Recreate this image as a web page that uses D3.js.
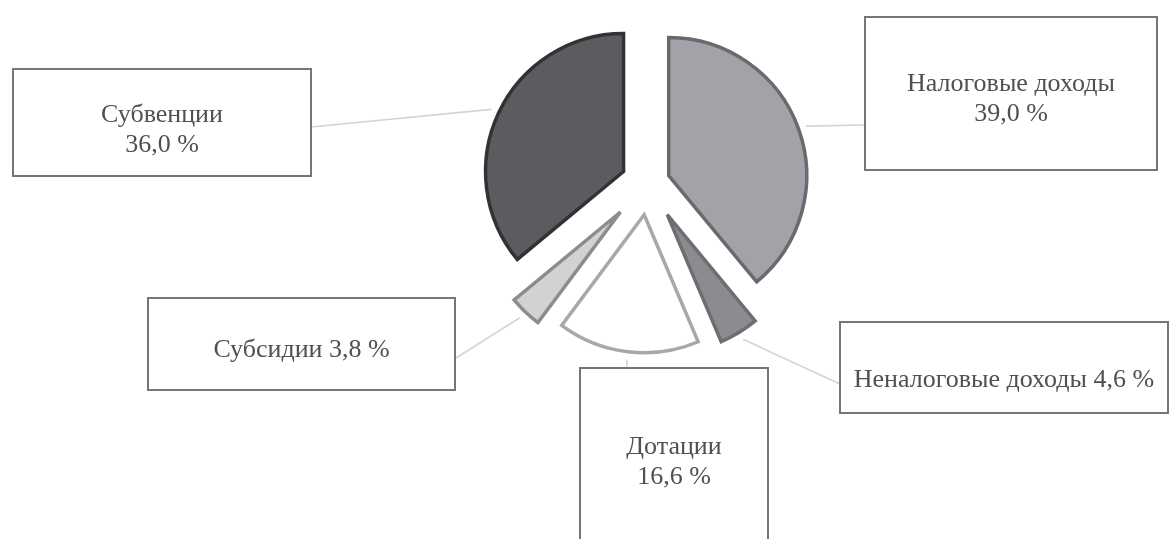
<!DOCTYPE html>
<html>
<head>
<meta charset="utf-8">
<script src="https://cdn.jsdelivr.net/npm/d3@7/dist/d3.min.js"></script>
<style>
  html, body { margin: 0; padding: 0; background: #fff; }
  svg { display: block; }
</style>
</head>
<body>
<svg id="chart" width="1169" height="539"></svg>
<script>
// ---- data ----
const categories = ["Налоговые доходы", "Неналоговые доходы", "Дотации", "Субсидии", "Субвенции"];
const values = [39.0, 4.6, 16.6, 3.8, 36.0];

// ---- styles / layout ----
const fills   = ["#a2a2a8", "#8c8c90", "#ffffff", "#d2d2d4", "#5c5c60"];
const strokes = ["#6a6a6e", "#6e6e72", "#a8a8a8", "#8c8c8c", "#333336"];
const explode = [22, 37, 32, 40, 27];
const wrapLabel = [true, false, true, false, true];
const boxes = [
  { x: 865, y: 17,  w: 292, h: 153, cy: 97,  ax: 865, ay: 125 },
  { x: 840, y: 322, w: 328, h: 91,  cy: 378, ax: 840, ay: 384 },
  { x: 580, y: 368, w: 188, h: 200, cy: 460, ax: 627, ay: 368 },
  { x: 148, y: 298, w: 307, h: 92,  cy: 348, ax: 456, ay: 358 },
  { x: 13,  y: 69,  w: 298, h: 107, cy: 128, ax: 311, ay: 127 }
];
const cx = 648, cy = 183, R = 138;

const svg = d3.select("#chart");
const fmt = v => d3.format(".1f")(v).replace(".", ",") + " %";

const pie = d3.pie().sort(null).value(d => d);
const arcs = pie(values);
const arc = d3.arc().innerRadius(0).outerRadius(R);
const dir = a => [Math.sin(a), -Math.cos(a)];

const defs = svg.append("defs");
defs.append("filter").attr("id", "soft")
  .append("feGaussianBlur").attr("stdDeviation", 0.6);

// leader lines
const leaders = svg.append("g").attr("class", "leaders");
arcs.forEach((d, i) => {
  const m = (d.startAngle + d.endAngle) / 2;
  const [ux, uy] = dir(m);
  const px = cx + explode[i] * ux, py = cy + explode[i] * uy;
  const sx = px + (R + 8) * ux, sy = py + (R + 8) * uy;
  leaders.append("line")
    .attr("x1", sx).attr("y1", sy)
    .attr("x2", boxes[i].ax).attr("y2", boxes[i].ay)
    .attr("stroke", "#d4d4d4").attr("stroke-width", 1.6);
});

// slices
const g = svg.append("g").attr("filter", "url(#soft)");
g.selectAll("path.slice")
  .data(arcs)
  .join("path")
  .attr("class", "slice")
  .attr("d", arc)
  .attr("transform", (d, i) => {
    const m = (d.startAngle + d.endAngle) / 2;
    const [ux, uy] = dir(m);
    return `translate(${cx + explode[i] * ux},${cy + explode[i] * uy})`;
  })
  .attr("fill", (d, i) => fills[i])
  .attr("stroke", (d, i) => strokes[i])
  .attr("stroke-width", 3.5)
  .attr("stroke-linejoin", "miter");

// label boxes
const lg = svg.append("g").attr("class", "labels");
categories.forEach((c, i) => {
  const b = boxes[i];
  lg.append("rect")
    .attr("x", b.x).attr("y", b.y).attr("width", b.w).attr("height", b.h)
    .attr("fill", "#fff").attr("stroke", "#767676").attr("stroke-width", 2);
  const lines = wrapLabel[i] ? [c, fmt(values[i])] : [c + " " + fmt(values[i])];
  const lh = 30;
  const t = lg.append("text")
    .attr("text-anchor", "middle")
    .attr("font-family", "'Liberation Serif', 'Times New Roman', serif")
    .attr("font-size", 26)
    .attr("fill", "#505050");
  lines.forEach((ln, k) => {
    t.append("tspan")
      .attr("x", b.x + b.w / 2)
      .attr("y", b.cy + (k - (lines.length - 1) / 2) * lh)
      .attr("dy", "0.35em")
      .text(ln);
  });
});
</script>
</body>
</html>
